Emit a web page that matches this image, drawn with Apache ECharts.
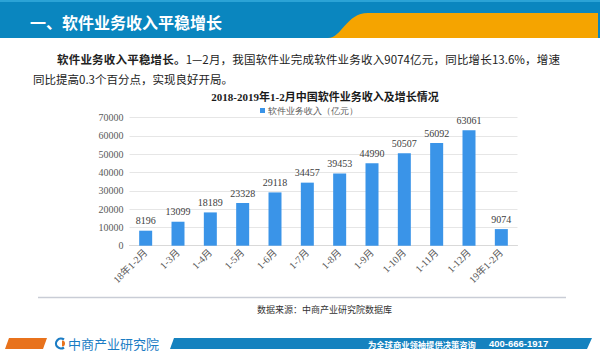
<!DOCTYPE html>
<html>
<head>
<meta charset="utf-8">
<script src="https://cdn.jsdelivr.net/npm/echarts@6/dist/echarts.min.js"></script>
<style>
html,body{margin:0;padding:0;background:#fff;}
#page{position:relative;width:600px;height:356px;overflow:hidden;background:#fff;font-family:"Noto Sans CJK SC",sans-serif;}
#chart{position:absolute;left:0;top:0;width:600px;height:356px;}
.t{position:absolute;white-space:nowrap;line-height:1;}
</style>
</head>
<body>
<div id="page">
<svg width="600" height="356" style="position:absolute;left:0;top:0">
  <rect x="0" y="0" width="600" height="38" fill="#0A86BF"/>
  <rect x="0" y="0" width="600" height="2" fill="#2BA3D6"/>
  <path d="M328,38 C342,38 346,13 368,13 L598,13 L598,38 Z" fill="#F5A400"/>
  <line x1="38" y1="297.5" x2="566" y2="297.5" stroke="#C9CDD6" stroke-width="1.5"/>
  <polygon points="9,338 47,338 43,349 5,349" fill="#E8721C"/>
  <polygon points="174,338 592,338 587,349 170,349" fill="#1582BF"/>
  <path d="M64,339.5 A5,5 0 1 0 64,347.5" fill="none" stroke="#1B7CC4" stroke-width="2.2"/>
  <path d="M62,340.5 A3,3 0 0 1 62,346.5 Z" fill="#E8721C"/>
</svg>
<div class="t" style="left:30px;top:14px;font-size:16px;font-weight:bold;color:#fff;">一、软件业务收入平稳增长</div>
<div class="t" style="left:57px;top:54px;width:503px;font-size:11.5px;color:#222;text-align:justify;text-align-last:justify;white-space:normal;"><b>软件业务收入平稳增长。</b>1—2月，我国软件业完成软件业务收入9074亿元，同比增长13.6%，增速</div>
<div class="t" style="left:33px;top:74px;font-size:11.5px;color:#222;">同比提高0.3个百分点，实现良好开局。</div>
<div class="t" style="left:257px;top:305px;font-size:9px;color:#333;">数据来源：中商产业研究院数据库</div>
<div class="t" style="left:68px;top:337px;font-size:13px;color:#1B7CC4;">中商产业研究院</div>
<div class="t" style="left:368px;top:339.5px;font-size:8.3px;font-weight:bold;color:#fff;">为全球商业领袖提供决策咨询</div>
<div class="t" style="left:489px;top:339px;font-size:9.5px;font-weight:bold;color:#fff;font-family:'Liberation Sans',sans-serif;">400-666-1917</div>
<div id="chart"></div>
</div>
<script>
var categories = ['18年1-2月','1-3月','1-4月','1-5月','1-6月','1-7月','1-8月','1-9月','1-10月','1-11月','1-12月','19年1-2月'];
var revenue = [8196, 13099, 18189, 23328, 29118, 34457, 39453, 44990, 50507, 56092, 63061, 9074];
var seriesName = '软件业务收入（亿元）';
var chartTitle = '2018-2019年1-2月中国软件业务收入及增长情况';

var serifMix = "'Liberation Serif','Noto Sans CJK SC',serif";
var chart = echarts.init(document.getElementById('chart'), null, {renderer: 'svg'});
chart.setOption({
  backgroundColor: 'transparent',
  animation: false,
  title: {
    text: chartTitle,
    left: 325,
    top: 91,
    textAlign: 'center',
    padding: 0,
    textStyle: {fontSize: 11, fontWeight: 'bold', color: '#1a1a1a', fontFamily: serifMix}
  },
  legend: {
    data: [seriesName],
    left: 260,
    top: 106,
    padding: 0,
    itemWidth: 5,
    itemHeight: 5,
    icon: 'rect',
    textStyle: {fontSize: 9, color: '#595959', padding: [0, 0, 0, -2]}
  },
  grid: {left: 129.5, right: 82.5, top: 117.6, bottom: 110.3, containLabel: false},
  xAxis: {
    type: 'category',
    data: categories,
    axisTick: {show: false},
    axisLine: {lineStyle: {color: '#D9D9D9'}},
    axisLabel: {rotate: 45, fontSize: 10, color: '#595959', margin: 5, interval: 0, fontFamily: serifMix}
  },
  yAxis: {
    type: 'value',
    min: 0,
    max: 70000,
    interval: 10000,
    axisLine: {show: false},
    axisTick: {show: false},
    splitLine: {lineStyle: {color: '#E6E6E6'}},
    axisLabel: {fontSize: 10, color: '#595959', margin: 6, fontFamily: serifMix, formatter: function (v) { return String(v); }}
  },
  series: [{
    name: seriesName,
    type: 'bar',
    data: revenue,
    barWidth: 13,
    itemStyle: {color: '#3A94E8'},
    label: {show: true, position: 'top', distance: 5, fontSize: 10, color: '#404040', fontFamily: serifMix}
  }]
});
</script>
</body>
</html>
